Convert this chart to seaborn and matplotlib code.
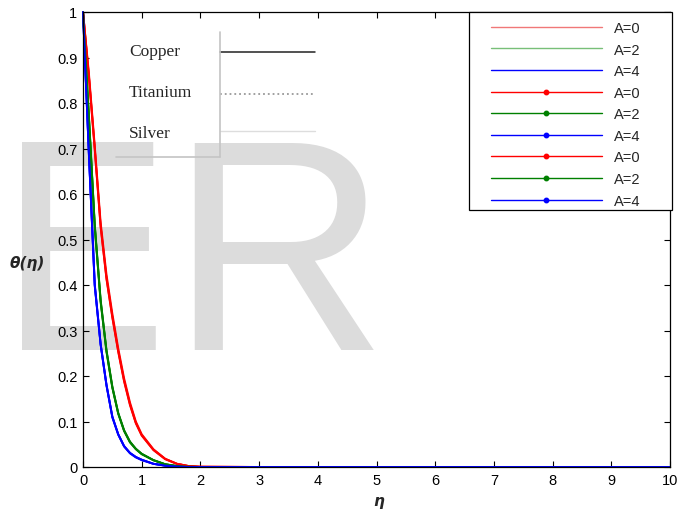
import numpy as np
import pandas as pd
import matplotlib
matplotlib.use("Agg")
import matplotlib.pyplot as plt
from matplotlib.lines import Line2D
from matplotlib.patches import Rectangle
import seaborn as sns

# similarity variable
eta = [0.0, 0.1, 0.2, 0.3, 0.4, 0.5, 0.6, 0.7, 0.8, 0.9, 1.0,
       1.2, 1.4, 1.6, 1.8, 2.0, 3.0, 4.0, 5.0, 6.0, 7.0, 8.0, 9.0, 10.0]

# temperature profiles theta(eta), Copper nanofluid
cu_a0 = [1.0, 0.86, 0.70, 0.53, 0.415, 0.33, 0.255, 0.19, 0.138, 0.097, 0.070,
         0.038, 0.018, 0.007, 0.002, 0.0005, 0, 0, 0, 0, 0, 0, 0, 0]
cu_a2 = [1.0, 0.77, 0.53, 0.365, 0.255, 0.175, 0.118, 0.08, 0.055, 0.04, 0.029,
         0.015, 0.006, 0.002, 0.0005, 0.0, 0, 0, 0, 0, 0, 0, 0, 0]
cu_a4 = [1.0, 0.69, 0.40, 0.27, 0.18, 0.11, 0.072, 0.046, 0.031, 0.022, 0.016,
         0.007, 0.003, 0.001, 0.0, 0.0, 0, 0, 0, 0, 0, 0, 0, 0]

# Titanium nanofluid
ti_a0 = [1.0, 0.866, 0.706, 0.538, 0.423, 0.337, 0.261, 0.195, 0.142, 0.100, 0.072,
         0.039, 0.018, 0.007, 0.002, 0.0005, 0, 0, 0, 0, 0, 0, 0, 0]
ti_a2 = [1.0, 0.773, 0.533, 0.368, 0.257, 0.177, 0.119, 0.081, 0.056, 0.040, 0.029,
         0.015, 0.006, 0.002, 0.0005, 0.0, 0, 0, 0, 0, 0, 0, 0, 0]
ti_a4 = [1.0, 0.692, 0.402, 0.271, 0.181, 0.111, 0.072, 0.046, 0.031, 0.022, 0.016,
         0.007, 0.003, 0.001, 0.0, 0.0, 0, 0, 0, 0, 0, 0, 0, 0]

# Silver nanofluid
ag_a0 = [1.0, 0.858, 0.698, 0.528, 0.413, 0.328, 0.253, 0.188, 0.136, 0.096, 0.069,
         0.037, 0.017, 0.007, 0.002, 0.0005, 0, 0, 0, 0, 0, 0, 0, 0]
ag_a2 = [1.0, 0.768, 0.528, 0.363, 0.253, 0.174, 0.117, 0.079, 0.054, 0.039, 0.028,
         0.015, 0.006, 0.002, 0.0005, 0.0, 0, 0, 0, 0, 0, 0, 0, 0]
ag_a4 = [1.0, 0.688, 0.398, 0.269, 0.179, 0.109, 0.071, 0.045, 0.030, 0.021, 0.015,
         0.007, 0.003, 0.001, 0.0, 0.0, 0, 0, 0, 0, 0, 0, 0, 0]

a_labels = ["A=0", "A=2", "A=4"]
materials = ["Copper", "Titanium", "Silver"]
a_colors = ["#ff0000", "#008000", "#0000ff"]

series = {
    "Copper": [cu_a0, cu_a2, cu_a4],
    "Titanium": [ti_a0, ti_a2, ti_a4],
    "Silver": [ag_a0, ag_a2, ag_a4],
}

rows = []
for mat in materials:
    for lab, vals in zip(a_labels, series[mat]):
        for x, y in zip(eta, vals):
            rows.append({"eta": x, "theta": y, "A": lab, "material": mat})
df = pd.DataFrame(rows)

sns.set_style("ticks")
plt.rcParams["font.family"] = ["Liberation Sans", "DejaVu Sans"]

W, H = 694, 510
fig = plt.figure(figsize=(W / 100, H / 100), dpi=100)
fig.patch.set_facecolor("white")
ax = fig.add_axes([83 / W, 1 - 468 / H, 587 / W, 455 / H])
ax.patch.set_visible(False)

# large light-grey lettering behind the plot
fig.text(-6 / W, 1 - 350 / H, "E", fontsize=205, color="#dcdcdc",
         family="DejaVu Sans", ha="left", va="baseline", zorder=-5)
fig.text(169 / W, 1 - 350 / H, "R", fontsize=217, color="#dcdcdc",
         family="Liberation Sans", ha="left", va="baseline", zorder=-5)

for mat in materials:
    for lab, col in zip(a_labels, a_colors):
        sub = df[(df["material"] == mat) & (df["A"] == lab)]
        sns.lineplot(data=sub, x="eta", y="theta", ax=ax, color=col,
                     lw=1.4, clip_on=False, legend=False, estimator=None)

ax.set_xlim(0, 10)
ax.set_ylim(0, 1)
ax.set_xticks(np.arange(0, 11, 1))
ax.set_yticks(np.round(np.arange(0, 1.01, 0.1), 1))
ax.set_xticklabels([str(i) for i in range(11)])
ax.set_yticklabels(["0"] + [f"{v:.1f}" for v in np.arange(0.1, 0.95, 0.1)] + ["1"])
ax.tick_params(direction="in", length=4, width=0.8, top=True, right=True,
               labelsize=10.5, colors="black", pad=4)
for s in ax.spines.values():
    s.set_visible(True)
    s.set_color("black")
    s.set_linewidth(0.9)

ax.set_xlabel("η", fontsize=11, fontweight="bold", style="italic",
              family="DejaVu Sans")
ax.xaxis.set_label_coords(0.503, -0.057)
ax.set_ylabel("θ(η)", fontsize=11, fontweight="bold", style="italic",
              family="DejaVu Sans", rotation=0, va="center", ha="center")
ax.yaxis.set_label_coords(-0.095, 0.45)

# legend of the A values
handles = []
light = ["#f07878", "#78bf78", "#0000ff"]
for col in light:
    handles.append(Line2D([], [], color=col, lw=1.0))
for _ in range(2):
    for col in a_colors:
        handles.append(Line2D([], [], color=col, lw=1.0, marker="o",
                              markersize=3.2, markerfacecolor=col,
                              markeredgecolor=col))
legend_labels = a_labels * 3
leg = ax.legend(handles, legend_labels, loc="upper left",
                bbox_to_anchor=((491 - 83) / 587, (468 - 22) / 455),
                borderaxespad=0, frameon=False, fontsize=10.5,
                handlelength=7.6, handletextpad=0.8, borderpad=0,
                labelspacing=0.52, numpoints=1)
leg.set_zorder(10)
ax.add_patch(Rectangle(((469 - 83) / 587, (468 - 211) / 455), 203 / 587,
                       198 / 455, transform=ax.transAxes, facecolor="white",
                       edgecolor="black", lw=0.9, zorder=9, clip_on=False))

# material key
tf = fig.transFigure
for name, ypx in zip(materials, [56, 97, 138]):
    fig.text(129 / W, 1 - ypx / H, name, fontsize=12.5,
             family="Liberation Serif", ha="left", va="baseline", zorder=20)
key_styles = [("#222222", "-", 1.1, 53), ("#999999", ":", 1.3, 95),
              ("#dddddd", "-", 1.0, 132)]
for col, ls, lw, ypx in key_styles:
    fig.add_artist(Line2D([220 / W, 315 / W], [1 - ypx / H] * 2,
                          color=col, ls=ls, lw=lw, transform=tf, zorder=20))
fig.add_artist(Line2D([220 / W, 220 / W], [1 - 33 / H, 1 - 158 / H],
                      color="#c4c4c4", lw=1.2, transform=tf, zorder=20))
fig.add_artist(Line2D([116 / W, 220 / W], [1 - 158 / H] * 2,
                      color="#c4c4c4", lw=1.2, transform=tf, zorder=20))

fig.savefig("out.png", dpi=100)
